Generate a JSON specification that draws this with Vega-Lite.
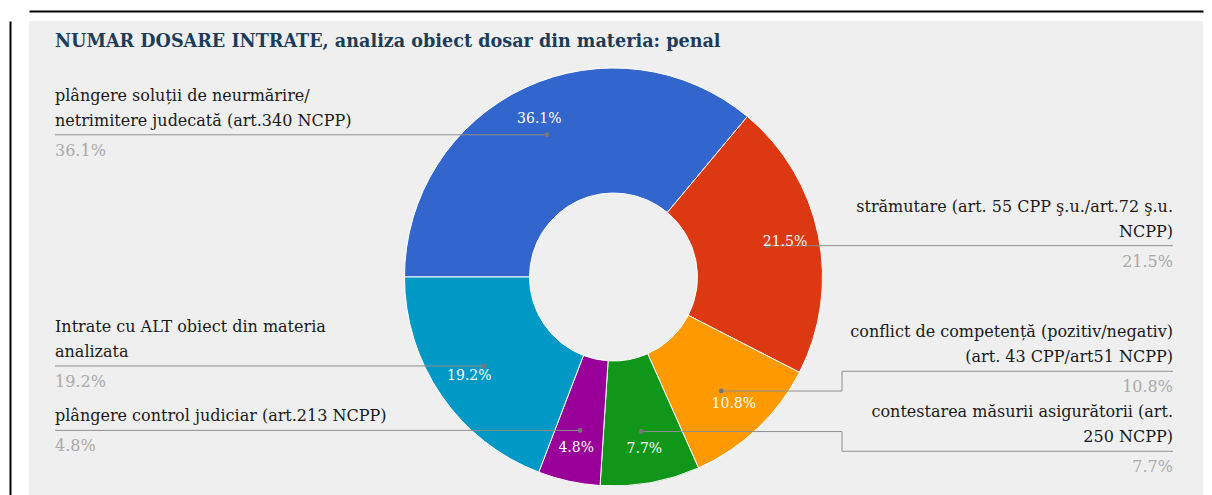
{
  "$schema": "https://vega.github.io/schema/vega-lite/v6.json",
  "width": 1174,
  "height": 474,
  "autosize": {"type": "none"},
  "padding": {"left": 29, "top": 21, "right": 9, "bottom": 0},
  "background": "#ffffff",
  "title": {
    "text": "NUMAR DOSARE INTRATE, analiza obiect dosar din materia: penal",
    "anchor": "start",
    "frame": "group",
    "offset": 0,
    "dx": 26,
    "dy": 49,
    "baseline": "middle",
    "font": "DejaVu Serif",
    "fontSize": 17.6,
    "fontWeight": "bold",
    "color": "#1c3d5a"
  },
  "config": {
    "view": {"fill": "#efefef", "stroke": null},
    "font": "DejaVu Serif"
  },
  "data": {
    "values": [
      {"ord": 1, "obiect": "plângere soluții de neurmărire/\nnetrimitere judecată (art.340 NCPP)", "pondere": 0.361},
      {"ord": 2, "obiect": "strămutare (art. 55 CPP ş.u./art.72 ş.u.\nNCPP)", "pondere": 0.215},
      {"ord": 3, "obiect": "conflict de competență (pozitiv/negativ)\n(art. 43 CPP/art51 NCPP)", "pondere": 0.108},
      {"ord": 4, "obiect": "contestarea măsurii asigurătorii (art.\n250 NCPP)", "pondere": 0.077},
      {"ord": 5, "obiect": "plângere control judiciar (art.213 NCPP)", "pondere": 0.048},
      {"ord": 6, "obiect": "Intrate cu ALT obiect din materia\nanalizata", "pondere": 0.192}
    ]
  },
  "transform": [
    {"joinaggregate": [{"op": "sum", "field": "pondere", "as": "total"}]},
    {"window": [{"op": "sum", "field": "pondere", "as": "cum"}], "sort": [{"field": "ord"}], "frame": [null, 0]},
    {"calculate": "datum.cum - datum.pondere", "as": "start"},
    {"calculate": "((datum.cum - datum.pondere / 2) / datum.total) * 2 * PI - PI / 2", "as": "mid"},
    {"calculate": "584.5 + 157 * sin(datum.mid)", "as": "dotX"},
    {"calculate": "256 - 157 * cos(datum.mid)", "as": "dotY"},
    {"calculate": "584.5 + 175 * sin(datum.mid)", "as": "pctX"},
    {"calculate": "256 - 175 * cos(datum.mid)", "as": "pctY"},
    {"calculate": "sin(datum.mid) >= 0 ? 'dreapta' : 'stanga'", "as": "side"},
    {"calculate": "length(split(datum.obiect, '\\n'))", "as": "nLines"},
    {"window": [
      {"op": "lag", "field": "dotY", "as": "prevY"},
      {"op": "lead", "field": "dotY", "as": "nextY"},
      {"op": "lead", "field": "nLines", "as": "nextN"}
    ], "groupby": ["side"], "sort": [{"field": "dotY"}]},
    {"calculate": "isValid(datum.nextY) ? max(0, 55 + 25 * (datum.nextN - 1) - (datum.nextY - datum.dotY)) / 2 : 0", "as": "up"},
    {"calculate": "isValid(datum.prevY) ? max(0, 55 + 25 * (datum.nLines - 1) - (datum.dotY - datum.prevY)) / 2 : 0", "as": "down"},
    {"calculate": "datum.dotY - datum.up + datum.down", "as": "lineY"},
    {"calculate": "datum.side === 'dreapta' ? 1144 : 26", "as": "colX"},
    {"calculate": "datum.side === 'dreapta' ? 813 : 356", "as": "kinkX"},
    {"calculate": "datum.lineY - 22 - (datum.nLines - 1) * 25", "as": "txtY"},
    {"calculate": "datum.lineY + 16", "as": "pctOutY"}
  ],
  "layer": [
    {
      "mark": {"type": "arc", "outerRadius": 209, "innerRadius": 84, "stroke": "#ffffff", "strokeWidth": 1},
      "encoding": {
        "theta": {"field": "cum", "type": "quantitative", "stack": null, "scale": {"range": [-1.5708, 4.7124], "nice": false, "zero": true}},
        "theta2": {"field": "start"},
        "color": {"field": "ord", "type": "ordinal", "scale": {"range": ["#3366cc", "#dc3912", "#ff9900", "#109618", "#990099", "#0099c6"]}, "legend": null},
        "x": {"datum": 584.5, "type": "quantitative", "stack": null, "scale": {"domain": [0, 1174], "nice": false, "zero": false}, "axis": {"orient": "top", "offset": 10, "domainColor": "#000000", "domainWidth": 2, "ticks": false, "labels": false, "grid": false, "title": null}},
        "y": {"datum": 256, "type": "quantitative", "stack": null, "scale": {"domain": [0, 474], "reverse": true, "nice": false, "zero": false}, "axis": {"orient": "left", "offset": 19, "domainColor": "#000000", "domainWidth": 2, "ticks": false, "labels": false, "grid": false, "title": null}}
      }
    },
    {
      "mark": {"type": "rule", "color": "#8f8f8f", "strokeWidth": 1},
      "encoding": {
        "x": {"field": "dotX", "type": "quantitative", "scale": {"domain": [0, 1174], "nice": false, "zero": false}, "axis": {"orient": "top", "offset": 10, "domainColor": "#000000", "domainWidth": 2, "ticks": false, "labels": false, "grid": false, "title": null}},
        "x2": {"field": "kinkX"},
        "y": {"field": "dotY", "type": "quantitative", "scale": {"domain": [0, 474], "reverse": true, "nice": false, "zero": false}, "axis": {"orient": "left", "offset": 19, "domainColor": "#000000", "domainWidth": 2, "ticks": false, "labels": false, "grid": false, "title": null}}
      }
    },
    {
      "mark": {"type": "rule", "color": "#8f8f8f", "strokeWidth": 1},
      "encoding": {
        "x": {"field": "kinkX", "type": "quantitative", "scale": {"domain": [0, 1174], "nice": false, "zero": false}, "axis": {"orient": "top", "offset": 10, "domainColor": "#000000", "domainWidth": 2, "ticks": false, "labels": false, "grid": false, "title": null}},
        "y": {"field": "dotY", "type": "quantitative", "scale": {"domain": [0, 474], "reverse": true, "nice": false, "zero": false}, "axis": {"orient": "left", "offset": 19, "domainColor": "#000000", "domainWidth": 2, "ticks": false, "labels": false, "grid": false, "title": null}},
        "y2": {"field": "lineY"}
      }
    },
    {
      "mark": {"type": "rule", "color": "#8f8f8f", "strokeWidth": 1},
      "encoding": {
        "x": {"field": "kinkX", "type": "quantitative", "scale": {"domain": [0, 1174], "nice": false, "zero": false}, "axis": {"orient": "top", "offset": 10, "domainColor": "#000000", "domainWidth": 2, "ticks": false, "labels": false, "grid": false, "title": null}},
        "x2": {"field": "colX"},
        "y": {"field": "lineY", "type": "quantitative", "scale": {"domain": [0, 474], "reverse": true, "nice": false, "zero": false}, "axis": {"orient": "left", "offset": 19, "domainColor": "#000000", "domainWidth": 2, "ticks": false, "labels": false, "grid": false, "title": null}}
      }
    },
    {
      "mark": {"type": "point", "filled": true, "size": 24, "color": "#777777", "opacity": 1},
      "encoding": {
        "x": {"field": "dotX", "type": "quantitative", "scale": {"domain": [0, 1174], "nice": false, "zero": false}, "axis": {"orient": "top", "offset": 10, "domainColor": "#000000", "domainWidth": 2, "ticks": false, "labels": false, "grid": false, "title": null}},
        "y": {"field": "dotY", "type": "quantitative", "scale": {"domain": [0, 474], "reverse": true, "nice": false, "zero": false}, "axis": {"orient": "left", "offset": 19, "domainColor": "#000000", "domainWidth": 2, "ticks": false, "labels": false, "grid": false, "title": null}}
      }
    },
    {
      "mark": {"type": "text", "font": "DejaVu Serif", "fontSize": 14, "color": "#ffffff", "align": "center", "baseline": "middle"},
      "encoding": {
        "x": {"field": "pctX", "type": "quantitative", "scale": {"domain": [0, 1174], "nice": false, "zero": false}, "axis": {"orient": "top", "offset": 10, "domainColor": "#000000", "domainWidth": 2, "ticks": false, "labels": false, "grid": false, "title": null}},
        "y": {"field": "pctY", "type": "quantitative", "scale": {"domain": [0, 474], "reverse": true, "nice": false, "zero": false}, "axis": {"orient": "left", "offset": 19, "domainColor": "#000000", "domainWidth": 2, "ticks": false, "labels": false, "grid": false, "title": null}},
        "text": {"field": "pondere", "type": "quantitative", "format": ".1%"}
      }
    },
    {
      "transform": [{"filter": "datum.side === 'stanga'"}],
      "mark": {"type": "text", "font": "DejaVu Serif", "fontSize": 16, "color": "#1a1a1a", "align": "left", "baseline": "top", "lineBreak": "\n", "lineHeight": 25},
      "encoding": {
        "x": {"field": "colX", "type": "quantitative", "scale": {"domain": [0, 1174], "nice": false, "zero": false}, "axis": {"orient": "top", "offset": 10, "domainColor": "#000000", "domainWidth": 2, "ticks": false, "labels": false, "grid": false, "title": null}},
        "y": {"field": "txtY", "type": "quantitative", "scale": {"domain": [0, 474], "reverse": true, "nice": false, "zero": false}, "axis": {"orient": "left", "offset": 19, "domainColor": "#000000", "domainWidth": 2, "ticks": false, "labels": false, "grid": false, "title": null}},
        "text": {"field": "obiect", "type": "nominal"}
      }
    },
    {
      "transform": [{"filter": "datum.side === 'dreapta'"}],
      "mark": {"type": "text", "font": "DejaVu Serif", "fontSize": 16, "color": "#1a1a1a", "align": "right", "baseline": "top", "lineBreak": "\n", "lineHeight": 25},
      "encoding": {
        "x": {"field": "colX", "type": "quantitative", "scale": {"domain": [0, 1174], "nice": false, "zero": false}, "axis": {"orient": "top", "offset": 10, "domainColor": "#000000", "domainWidth": 2, "ticks": false, "labels": false, "grid": false, "title": null}},
        "y": {"field": "txtY", "type": "quantitative", "scale": {"domain": [0, 474], "reverse": true, "nice": false, "zero": false}, "axis": {"orient": "left", "offset": 19, "domainColor": "#000000", "domainWidth": 2, "ticks": false, "labels": false, "grid": false, "title": null}},
        "text": {"field": "obiect", "type": "nominal"}
      }
    },
    {
      "transform": [{"filter": "datum.side === 'stanga'"}],
      "mark": {"type": "text", "font": "DejaVu Serif", "fontSize": 16, "color": "#aaaaaa", "align": "left", "baseline": "middle"},
      "encoding": {
        "x": {"field": "colX", "type": "quantitative", "scale": {"domain": [0, 1174], "nice": false, "zero": false}, "axis": {"orient": "top", "offset": 10, "domainColor": "#000000", "domainWidth": 2, "ticks": false, "labels": false, "grid": false, "title": null}},
        "y": {"field": "pctOutY", "type": "quantitative", "scale": {"domain": [0, 474], "reverse": true, "nice": false, "zero": false}, "axis": {"orient": "left", "offset": 19, "domainColor": "#000000", "domainWidth": 2, "ticks": false, "labels": false, "grid": false, "title": null}},
        "text": {"field": "pondere", "type": "quantitative", "format": ".1%"}
      }
    },
    {
      "transform": [{"filter": "datum.side === 'dreapta'"}],
      "mark": {"type": "text", "font": "DejaVu Serif", "fontSize": 16, "color": "#aaaaaa", "align": "right", "baseline": "middle"},
      "encoding": {
        "x": {"field": "colX", "type": "quantitative", "scale": {"domain": [0, 1174], "nice": false, "zero": false}, "axis": {"orient": "top", "offset": 10, "domainColor": "#000000", "domainWidth": 2, "ticks": false, "labels": false, "grid": false, "title": null}},
        "y": {"field": "pctOutY", "type": "quantitative", "scale": {"domain": [0, 474], "reverse": true, "nice": false, "zero": false}, "axis": {"orient": "left", "offset": 19, "domainColor": "#000000", "domainWidth": 2, "ticks": false, "labels": false, "grid": false, "title": null}},
        "text": {"field": "pondere", "type": "quantitative", "format": ".1%"}
      }
    }
  ]
}
